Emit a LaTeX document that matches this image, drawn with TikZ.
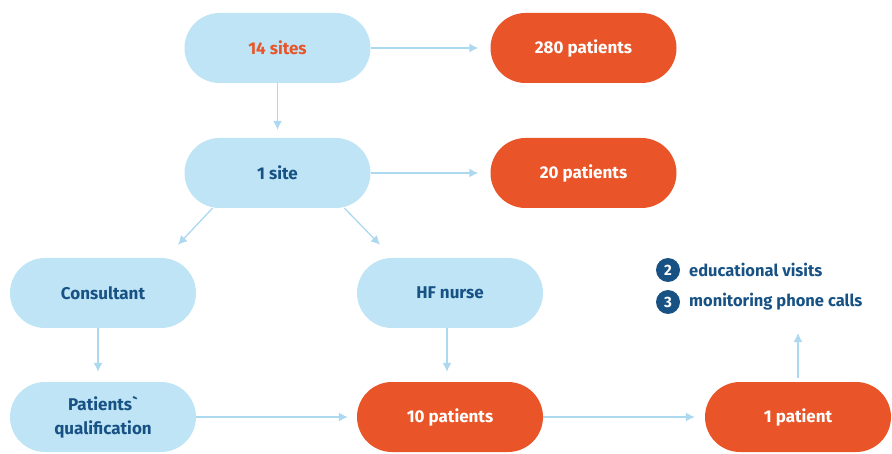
\documentclass[tikz,border=0pt]{standalone}
\usepackage{fontspec}
\setmainfont{Fira Sans}
\newfontfamily\plainfont{Fira Sans}
\usetikzlibrary{arrows.meta, positioning}
\definecolor{pillblue}{RGB}{190, 228, 246}
\definecolor{pillorange}{RGB}{233, 85, 40}
\definecolor{textblue}{RGB}{24, 82, 132}
\definecolor{arrowblue}{RGB}{172, 216, 240}

\begin{document}
\begin{tikzpicture}[
        x=1pt, y=1pt,
        pill/.style={rectangle, rounded corners=35pt, minimum width=186pt, minimum height=70pt, align=center, font=\fontsize{17}{24}\selectfont\bfseries},
        bluepill/.style={pill, fill=pillblue, text=textblue},
        orangepill/.style={pill, fill=pillorange, text=white},
        arrow/.style={-{Latex[length=9pt,width=9pt]}, arrowblue, line width=1.3pt},
        numdot/.style={circle, fill=textblue, text=white, inner sep=0pt, minimum size=24pt, font=\fontsize{15}{18}\selectfont\bfseries},
        item/.style={text=textblue, anchor=west, inner sep=0pt, font=\fontsize{16.5}{20}\selectfont\bfseries}
    ]
        \useasboundingbox (0,0) rectangle (892,453);

        % Row 1: all sites
        \node[bluepill, text=pillorange] (sites14) at (277.5,405) {14 sites};
        \node[orangepill] (pat280) at (583.5,405) {280 patients};

        % Row 2: one site
        \node[bluepill] (site1) at (277.5,280) {1 site};
        \node[orangepill] (pat20) at (583.5,280) {20 patients};

        % Row 3: staff
        \node[bluepill] (consult) at (103,160) {Consultant};
        \node[bluepill] (nurse) at (450,160) {HF nurse};

        % Row 4: patients
        \node[bluepill] (qualif) at (103,36) {Patients{\plainfont\bfseries`}\\qualification};
        \node[orangepill] (pat10) at (450,36) {10 patients};
        \node[orangepill] (pat1) at (798,36) {1 patient};

        % Follow-up list
        \node[numdot] (dot2) at (668,183) {2};
        \node[item] (visits) at (689,183) {educational visits};
        \node[numdot] (dot3) at (668,151) {3};
        \node[item] (calls) at (689,151) {monitoring phone calls};
        \coordinate (listtip) at (798,120);

        % Arrows - top rows
        \draw[arrow, shorten >=12pt] (sites14) -- (pat280);
        \draw[arrow, shorten >=8pt] (sites14) -- (site1);
        \draw[arrow, shorten >=12pt] (site1) -- (pat20);

        % Split to staff
        \draw[arrow] ([xshift=-65pt]site1.south) -- ([xshift=75pt, yshift=13pt]consult.north);
        \draw[arrow] ([xshift=67pt]site1.south) -- ([xshift=-70pt, yshift=13pt]nurse.north);

        % Down to bottom row
        \draw[arrow, shorten >=10pt] ([xshift=-5pt]consult.south) -- ([xshift=-5pt]qualif.north);
        \draw[arrow, shorten >=10pt] ([xshift=-3pt]nurse.south) -- ([xshift=-3pt]pat10.north);

        % Bottom row
        \draw[arrow, shorten >=9pt] (qualif) -- (pat10);
        \draw[arrow, shorten >=10pt] (pat10) -- (pat1);
        \draw[arrow, shorten <=4pt] (pat1) -- (listtip);
    \end{tikzpicture}
\end{document}
